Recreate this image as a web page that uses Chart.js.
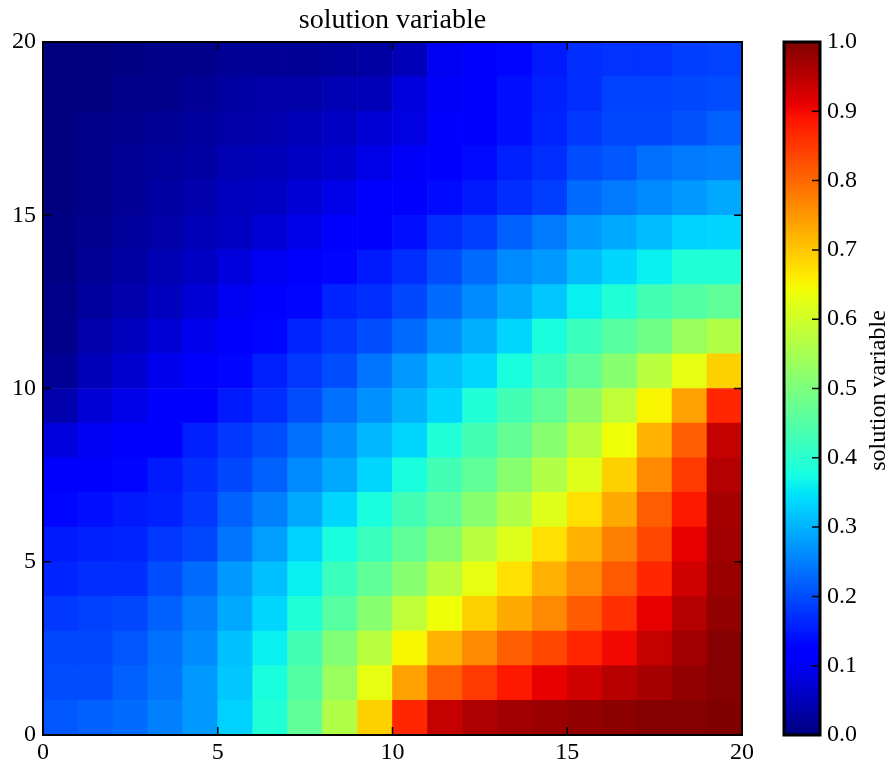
<!DOCTYPE html>
<html>
<head>
<meta charset="utf-8">
<title>solution variable</title>
<script src="https://cdn.jsdelivr.net/npm/chart.js@4.4.1/dist/chart.umd.min.js"></script>
<style>
  body { margin: 0; background: #fff; }
  #wrap { position: relative; width: 889px; height: 762px; }
  #heat { position: absolute; left: 0; top: 0; }
  #bar { position: absolute; left: 760px; top: 0; }
</style>
</head>
<body>
<div id="wrap">
  <canvas id="heat" width="760" height="762"></canvas>
  <canvas id="bar" width="129" height="762"></canvas>
</div>
<script>
const FONT = "'Liberation Serif', 'Times New Roman', serif";

// celdas del grid (columna x, fila y)
const xCells = [0, 1, 2, 3, 4, 5, 6, 7, 8, 9, 10, 11, 12, 13, 14, 15, 16, 17, 18, 19];
const axisTicks = [0, 5, 10, 15, 20];
const cbTicks = [0.1, 0.2, 0.3, 0.4, 0.5, 0.6, 0.7, 0.8, 0.9];

// valores por fila, y = 0 es la fila de abajo
const row0 = [0.21, 0.22, 0.23, 0.25, 0.275, 0.33, 0.39, 0.467, 0.565, 0.69, 0.87, 0.94, 0.96, 0.97, 0.977, 0.983, 0.989, 0.995, 0.995, 1.0];
const row1 = [0.2, 0.2, 0.22, 0.24, 0.275, 0.32, 0.38, 0.45, 0.535, 0.63, 0.74, 0.81, 0.85, 0.885, 0.91, 0.93, 0.95, 0.966, 0.983, 0.995];
const row2 = [0.195, 0.195, 0.21, 0.235, 0.26, 0.313, 0.36, 0.43, 0.505, 0.575, 0.65, 0.72, 0.765, 0.81, 0.835, 0.87, 0.9, 0.94, 0.97, 0.995];
const row3 = [0.18, 0.188, 0.195, 0.22, 0.25, 0.29, 0.335, 0.39, 0.455, 0.515, 0.583, 0.64, 0.69, 0.73, 0.765, 0.815, 0.86, 0.91, 0.955, 0.983];
const row4 = [0.16, 0.17, 0.17, 0.2, 0.23, 0.275, 0.313, 0.36, 0.42, 0.467, 0.515, 0.575, 0.63, 0.673, 0.724, 0.765, 0.815, 0.87, 0.93, 0.977];
const row5 = [0.15, 0.156, 0.16, 0.18, 0.195, 0.24, 0.28, 0.33, 0.38, 0.42, 0.467, 0.515, 0.575, 0.62, 0.673, 0.724, 0.775, 0.835, 0.91, 0.97];
const row6 = [0.13, 0.14, 0.15, 0.156, 0.18, 0.22, 0.25, 0.29, 0.335, 0.38, 0.43, 0.467, 0.515, 0.565, 0.62, 0.673, 0.73, 0.81, 0.885, 0.966];
const row7 = [0.11, 0.115, 0.13, 0.15, 0.17, 0.195, 0.22, 0.26, 0.29, 0.335, 0.38, 0.43, 0.467, 0.515, 0.565, 0.62, 0.69, 0.765, 0.85, 0.955];
const row8 = [0.08, 0.1, 0.11, 0.115, 0.155, 0.18, 0.2, 0.235, 0.266, 0.305, 0.335, 0.39, 0.43, 0.47, 0.515, 0.575, 0.64, 0.72, 0.81, 0.94];
const row9 = [0.04, 0.075, 0.09, 0.11, 0.115, 0.15, 0.17, 0.2, 0.235, 0.266, 0.3, 0.335, 0.39, 0.43, 0.467, 0.525, 0.583, 0.65, 0.74, 0.87];
const row10 = [0.02, 0.05, 0.07, 0.095, 0.11, 0.13, 0.155, 0.18, 0.2, 0.24, 0.275, 0.313, 0.335, 0.38, 0.42, 0.467, 0.515, 0.575, 0.63, 0.69];
const row11 = [0.01, 0.04, 0.055, 0.075, 0.095, 0.115, 0.13, 0.16, 0.18, 0.2, 0.23, 0.266, 0.298, 0.335, 0.38, 0.42, 0.455, 0.485, 0.535, 0.565];
const row12 = [0.01, 0.025, 0.04, 0.055, 0.075, 0.1, 0.115, 0.13, 0.16, 0.17, 0.195, 0.23, 0.26, 0.29, 0.32, 0.36, 0.39, 0.43, 0.45, 0.467];
const row13 = [0.005, 0.02, 0.03, 0.045, 0.06, 0.08, 0.1, 0.11, 0.13, 0.15, 0.17, 0.2, 0.23, 0.26, 0.275, 0.31, 0.335, 0.36, 0.39, 0.39];
const row14 = [0.005, 0.015, 0.025, 0.035, 0.05, 0.06, 0.075, 0.09, 0.11, 0.125, 0.14, 0.17, 0.185, 0.22, 0.245, 0.275, 0.29, 0.31, 0.33, 0.335];
const row15 = [0.0, 0.01, 0.02, 0.03, 0.04, 0.055, 0.06, 0.075, 0.09, 0.11, 0.115, 0.135, 0.15, 0.17, 0.185, 0.23, 0.245, 0.26, 0.275, 0.29];
const row16 = [0.0, 0.01, 0.02, 0.025, 0.03, 0.045, 0.05, 0.06, 0.07, 0.09, 0.105, 0.11, 0.135, 0.155, 0.17, 0.2, 0.21, 0.235, 0.245, 0.25];
const row17 = [0.0, 0.01, 0.015, 0.02, 0.025, 0.035, 0.04, 0.05, 0.06, 0.075, 0.085, 0.115, 0.12, 0.14, 0.16, 0.18, 0.195, 0.195, 0.205, 0.22];
const row18 = [0.0, 0.0, 0.01, 0.01, 0.02, 0.03, 0.035, 0.035, 0.045, 0.05, 0.08, 0.105, 0.115, 0.14, 0.155, 0.17, 0.19, 0.19, 0.195, 0.2];
const row19 = [0.0, 0.0, 0.005, 0.01, 0.01, 0.02, 0.02, 0.02, 0.025, 0.03, 0.05, 0.1, 0.115, 0.13, 0.15, 0.17, 0.175, 0.175, 0.185, 0.19];

const rows = [row0, row1, row2, row3, row4, row5, row6, row7, row8, row9,
  row10, row11, row12, row13, row14, row15, row16, row17, row18, row19];

// colormap "jet" de matplotlib (tramos lineales)
const JET = {
  r: [[0, 0], [0.35, 0], [0.66, 1], [0.89, 1], [1, 0.5]],
  g: [[0, 0], [0.125, 0], [0.375, 1], [0.64, 1], [0.91, 0], [1, 0]],
  b: [[0, 0.5], [0.11, 1], [0.34, 1], [0.65, 0], [1, 0]],
};
const JET_STOPS = [0, 0.11, 0.125, 0.34, 0.35, 0.375, 0.64, 0.65, 0.66, 0.89, 0.91, 1];

function interp(pts, v) {
  for (let i = 1; i < pts.length; i++) {
    if (v <= pts[i][0]) {
      const [x0, y0] = pts[i - 1];
      const [x1, y1] = pts[i];
      return y0 + ((y1 - y0) * (v - x0)) / (x1 - x0);
    }
  }
  return pts[pts.length - 1][1];
}

function jet(v) {
  v = Math.min(1, Math.max(0, v));
  const c = ["r", "g", "b"].map((k) => Math.round(255 * interp(JET[k], v)));
  return `rgb(${c[0]}, ${c[1]}, ${c[2]})`;
}

Chart.defaults.font.family = FONT;
Chart.defaults.color = "#000";

// marco negro + ticks hacia dentro en los 4 lados
const frameTicks = {
  id: "frameTicks",
  afterDraw(chart) {
    const { ctx, chartArea: a, scales } = chart;
    ctx.save();
    ctx.strokeStyle = "#000";
    ctx.lineWidth = 1.5;
    ctx.beginPath();
    axisTicks.forEach((t) => {
      const px = scales.x.getPixelForValue(t);
      const py = scales.y.getPixelForValue(t);
      ctx.moveTo(px, a.top);
      ctx.lineTo(px, a.top + 8);
      ctx.moveTo(px, a.bottom);
      ctx.lineTo(px, a.bottom - 8);
      ctx.moveTo(a.left, py);
      ctx.lineTo(a.left + 8, py);
      ctx.moveTo(a.right, py);
      ctx.lineTo(a.right - 8, py);
    });
    ctx.stroke();
    ctx.lineWidth = 2;
    ctx.strokeRect(a.left, a.top, a.right - a.left, a.bottom - a.top);
    ctx.restore();
  },
};

const heatDatasets = rows.map((vals, y) => ({
  data: vals.map((v, i) => ({ x: xCells[i] + 0.5, y: [y, y + 1] })),
  backgroundColor: vals.map(jet),
  borderWidth: 0,
  grouped: false,
  barPercentage: 1,
  categoryPercentage: 1,
}));

new Chart(document.getElementById("heat"), {
  type: "bar",
  data: { datasets: heatDatasets },
  options: {
    responsive: false,
    animation: false,
    layout: { padding: { right: 18 } },
    scales: {
      x: {
        type: "linear",
        min: 0,
        max: 20,
        offset: false,
        grid: { display: false, drawTicks: false, offset: false },
        border: { display: false },
        ticks: { stepSize: 5, padding: 3, font: { size: 24 } },
        afterFit: (s) => { s.height = 27; },
      },
      y: {
        type: "linear",
        min: 0,
        max: 20,
        grid: { display: false, drawTicks: false },
        border: { display: false },
        ticks: { stepSize: 5, padding: 7, font: { size: 24 } },
        afterFit: (s) => { s.width = 43; },
      },
    },
    plugins: {
      legend: { display: false },
      tooltip: { enabled: false },
      title: {
        display: true,
        text: "solution variable",
        fullSize: false,
        color: "#000",
        font: { size: 28, weight: "normal", lineHeight: 1.2 },
        padding: { top: 4, bottom: 4.4 },
      },
    },
  },
  plugins: [frameTicks],
});

// barra de color
const colorbarDeco = {
  id: "colorbarDeco",
  afterDraw(chart) {
    const { ctx, chartArea: a, scales } = chart;
    ctx.save();
    ctx.strokeStyle = "#000";
    ctx.lineWidth = 1.5;
    ctx.beginPath();
    cbTicks.forEach((t) => {
      const py = scales.y.getPixelForValue(t);
      ctx.moveTo(a.right, py);
      ctx.lineTo(a.right - 8, py);
    });
    ctx.stroke();
    ctx.lineWidth = 3;
    ctx.strokeRect(a.left, a.top, a.right - a.left, a.bottom - a.top);
    // etiqueta girada (de abajo hacia arriba)
    ctx.translate(119, (a.top + a.bottom) / 2 + 2);
    ctx.rotate(-Math.PI / 2);
    ctx.fillStyle = "#000";
    ctx.font = "24px " + FONT;
    ctx.textAlign = "center";
    ctx.textBaseline = "middle";
    ctx.fillText("solution variable", 0, 0);
    ctx.restore();
  },
};

new Chart(document.getElementById("bar"), {
  type: "bar",
  data: {
    labels: ["cb"],
    datasets: [
      {
        data: [[0, 1]],
        borderWidth: 0,
        barPercentage: 1,
        categoryPercentage: 1,
        backgroundColor: (c) => {
          const area = c.chart.chartArea;
          if (!area) return "#000080";
          const g = c.chart.ctx.createLinearGradient(0, area.bottom, 0, area.top);
          JET_STOPS.forEach((s) => g.addColorStop(s, jet(s)));
          return g;
        },
      },
    ],
  },
  options: {
    responsive: false,
    animation: false,
    layout: { padding: { left: 24, top: 42, bottom: 27 } },
    scales: {
      x: { display: false },
      y: {
        position: "right",
        min: 0,
        max: 1,
        grid: { display: false, drawTicks: false },
        border: { display: false },
        ticks: {
          stepSize: 0.1,
          padding: 7,
          font: { size: 24 },
          callback: (v) => v.toFixed(1),
        },
        afterFit: (s) => { s.width = 69; },
      },
    },
    plugins: {
      legend: { display: false },
      tooltip: { enabled: false },
    },
  },
  plugins: [colorbarDeco],
});
</script>
</body>
</html>
